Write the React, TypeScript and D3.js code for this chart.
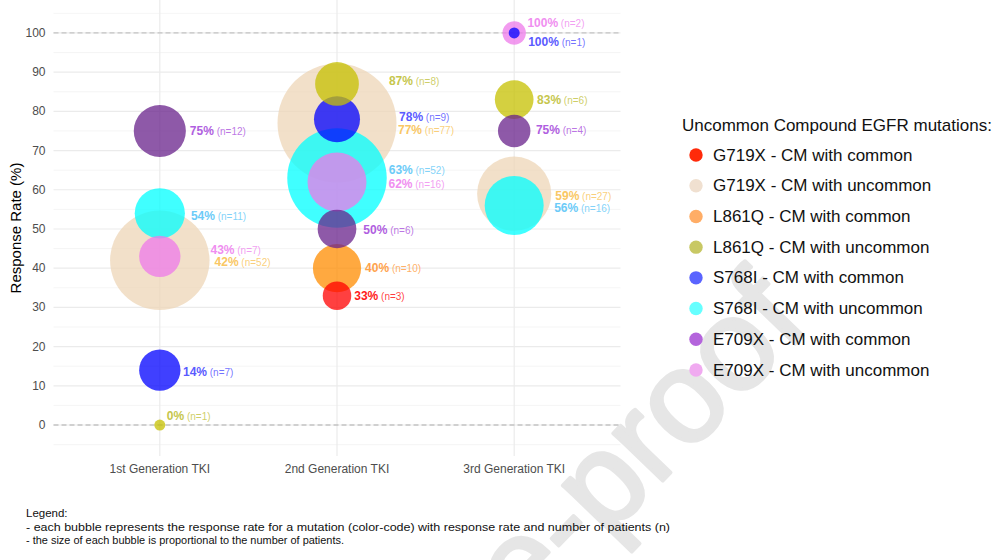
import React from 'react';
import * as d3 from 'd3';

// ---------- data ----------
const generations = ['1st Generation TKI', '2nd Generation TKI', '3rd Generation TKI'];
const mutations = [
  'G719X - CM with common',
  'G719X - CM with uncommon',
  'L861Q - CM with common',
  'L861Q - CM with uncommon',
  'S768I - CM with common',
  'S768I - CM with uncommon',
  'E709X - CM with common',
  'E709X - CM with uncommon',
];
const yTicks = [0, 10, 20, 30, 40, 50, 60, 70, 80, 90, 100];

// one entry per bubble
const pointGeneration = [0, 0, 0, 0, 0, 0, 1, 1, 1, 1, 1, 1, 1, 1, 2, 2, 2, 2, 2, 2];
const pointMutation = [6, 5, 7, 1, 4, 3, 3, 4, 1, 5, 7, 6, 2, 0, 7, 4, 3, 6, 1, 5];
const pointRate = [75, 54, 43, 42, 14, 0, 87, 78, 77, 63, 62, 50, 40, 33, 100, 100, 83, 75, 59, 56];
const pointN = [12, 11, 7, 52, 7, 1, 8, 9, 77, 52, 16, 6, 10, 3, 2, 1, 6, 4, 27, 16];

// ---------- layout / style (not data) ----------
const labelNudge: [number, number][] = [
  [4, 0], [6, 3], [30, -6], [5, 2], [2.5, 1.5], [1.5, -9],
  [30, -3], [39, -2], [1.5, 7], [2, -8], [22, 2], [7, 1], [4, 0], [3, 0],
  [1.5, -10], [8.5, 9], [3.5, 0], [5.5, -1], [4, 2], [10.5, 2.5],
];
const bubbleFill = ['#FF0000', '#EED5B7', '#FF8C00', '#C5C000', '#0000FF', '#00FFFF', '#68228B', '#EE7AE9'];
const labelFill = ['#FF1A1A', '#F9C764', '#FFA24C', '#C6C64C', '#5A5AFF', '#6CCBF8', '#B05EE0', '#F08EF0'];
const legendFill = ['#FF2A0A', '#F0E0D0', '#FFAD66', '#C8C864', '#5A64FF', '#66FFFF', '#B464DC', '#F0AAF0'];

const W = 1003;
const H = 560;
const FONT = '"Liberation Sans", Arial, Helvetica, sans-serif';
const panel = { left: 53.5, right: 620.5, top: 0, bottom: 456 };

export default function App() {
  const x = d3.scalePoint<string>().domain(generations).range([panel.left, panel.right]).padding(0.6);
  const y = d3.scaleLinear().domain([-7.9, 108.4]).range([panel.bottom, panel.top]);
  const nNorm = d3.scaleLinear().domain(d3.extent(pointN) as [number, number]).range([0, 1]);
  const rScale = d3.scaleSqrt().domain([0, 1]).range([5.5, 59.5]);
  const radius = (n: number) => rScale(nNorm(n));

  const points = pointRate.map((rate, i) => ({
    i,
    gen: generations[pointGeneration[i]],
    m: pointMutation[i],
    rate,
    n: pointN[i],
  }));
  const drawOrder = [...points].sort((a, b) => b.n - a.n);

  const majors = yTicks;
  const minors = d3.range(-5, 110, 10);

  const legendY = d3.scaleLinear().domain([0, mutations.length - 1]).range([155, 370]);

  return (
    <div style={{ position: 'absolute', left: 0, top: 0, width: W, height: H, overflow: 'hidden', background: '#fff' }}>
      <svg width={W} height={H} style={{ display: 'block' }} fontFamily={FONT}>
        <rect x={0} y={0} width={W} height={H} fill="#fff" />
        {/* watermark */}
        <text
          transform="translate(812,326) rotate(-46)"
          textAnchor="end"
          fontSize={130}
          fill="#e6e6e6"
          stroke="#e6e6e6"
          strokeWidth={3.5}
          strokeLinejoin="round"
          fontFamily={FONT}
        >
          Journal Pre-proof
        </text>

        {/* grid */}
        {minors.map((v) => (
          <line key={'mn' + v} x1={panel.left} x2={panel.right} y1={y(v)} y2={y(v)} stroke="#f3f3f3" strokeWidth={0.8} />
        ))}
        {majors.map((v) => (
          <line key={'mj' + v} x1={panel.left} x2={panel.right} y1={y(v)} y2={y(v)} stroke="#ebebeb" strokeWidth={1.2} />
        ))}
        {generations.map((g) => (
          <line key={'vx' + g} x1={x(g)} x2={x(g)} y1={panel.top} y2={panel.bottom} stroke="#ebebeb" strokeWidth={1.2} />
        ))}
        {[0, 100].map((v) => (
          <line key={'ref' + v} x1={panel.left} x2={panel.right} y1={y(v)} y2={y(v)} stroke="#c4c4c4" strokeWidth={1.3} strokeDasharray="5 3" />
        ))}

        {/* bubbles */}
        {drawOrder.map((p) => (
          <circle key={'c' + p.i} cx={x(p.gen)} cy={y(p.rate)} r={radius(p.n)} fill={bubbleFill[p.m]} fillOpacity={0.75} />
        ))}

        {/* labels */}
        {points.map((p) => (
          <text
            key={'t' + p.i}
            x={(x(p.gen) as number) + radius(p.n) + labelNudge[p.i][0]}
            y={y(p.rate) + labelNudge[p.i][1]}
            dominantBaseline="central"
            fill={labelFill[p.m]}
          >
            <tspan fontWeight="bold" fontSize={12}>{p.rate}%</tspan>
            <tspan fontSize={10} fillOpacity={0.85}>{' (n=' + p.n + ')'}</tspan>
          </text>
        ))}

        {/* y axis */}
        {yTicks.map((v) => (
          <text key={'yt' + v} x={45.5} y={y(v)} textAnchor="end" dominantBaseline="central" fontSize={12} fill="#4d4d4d">
            {v}
          </text>
        ))}
        <text transform={`translate(15,${(panel.top + panel.bottom) / 2}) rotate(-90)`} textAnchor="middle" dominantBaseline="central" fontSize={15} fill="#000">
          Response Rate (%)
        </text>

        {/* x axis */}
        {generations.map((g) => (
          <text key={'xt' + g} x={x(g)} y={469} textAnchor="middle" dominantBaseline="central" fontSize={12} fill="#4d4d4d">
            {g}
          </text>
        ))}

        {/* legend */}
        <text x={682} y={125} dominantBaseline="central" fontSize={17} fill="#111">
          Uncommon Compound EGFR mutations:
        </text>
        {mutations.map((m, i) => (
          <g key={'lg' + i}>
            <circle cx={696} cy={legendY(i)} r={6.7} fill={legendFill[i]} />
            <text x={713} y={legendY(i)} dominantBaseline="central" fontSize={17} fill="#111">
              {m}
            </text>
          </g>
        ))}

        {/* footer */}
        <g fontFamily='"Liberation Sans Narrow", "Arial Narrow", "Liberation Sans", Arial, sans-serif' fontSize={11.5} fill="#111">
          <text x={26} y={513} dominantBaseline="central">Legend:</text>
          <text x={26} y={526.5} dominantBaseline="central" textLength={644} lengthAdjust="spacingAndGlyphs">
            - each bubble represents the response rate for a mutation (color-code) with response rate and number of patients (n)
          </text>
          <text x={26} y={540} dominantBaseline="central" textLength={318} lengthAdjust="spacingAndGlyphs">
            - the size of each bubble is proportional to the number of patients.
          </text>
        </g>
      </svg>
    </div>
  );
}
